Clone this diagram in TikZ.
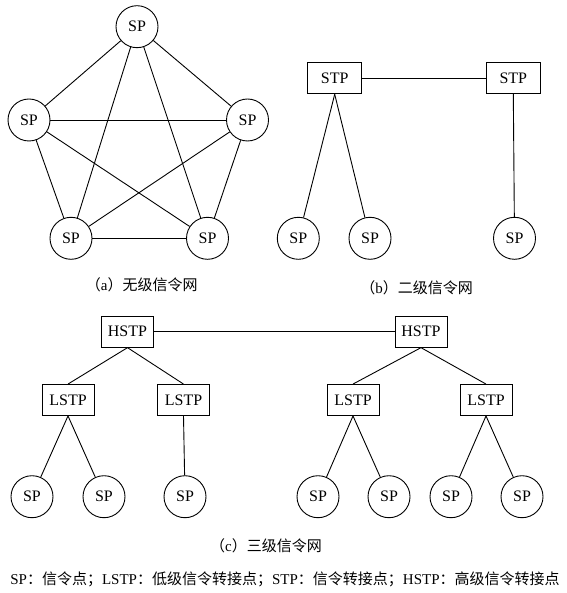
\documentclass[tikz,border=0pt]{standalone}
\usepackage{fontspec}
\setmainfont{Liberation Serif}
\newfontfamily\cjk{Noto Sans CJK SC}
\tikzset{
  sp/.style={draw, circle, line width=0.9pt, minimum size=42pt, inner sep=0pt, font=\fontsize{16}{19}\selectfont},
  stpbox/.style={draw, rectangle, line width=0.9pt, minimum width=52pt, minimum height=31pt, inner sep=0pt, font=\fontsize{16}{19}\selectfont},
  link/.style={line width=0.9pt},
}
\begin{document}
\begin{tikzpicture}[x=1pt, y=-1pt, font=\fontsize{15}{18}\selectfont]
    \useasboundingbox (0, 0) rectangle (566, 593);
        % (a) mesh
        \node [sp] (spt) at (137, 26.7) {SP};
        \node [sp] (spl) at (29, 120) {SP};
        \node [sp] (spr) at (247.5, 120) {SP};
        \node [sp] (spbl) at (71, 238.3) {SP};
        \node [sp] (spbr) at (207.5, 238.3) {SP};
        \draw[link] (spt) -- (spl);
        \draw[link] (spt) -- (spr);
        \draw[link] (spt) -- (spbl);
        \draw[link] (spt) -- (spbr);
        \draw[link] (spl) -- (spr);
        \draw[link] (spl) -- (spbl);
        \draw[link] (spl) -- (spbr);
        \draw[link] (spr) -- (spbl);
        \draw[link] (spr) -- (spbr);
        \draw[link] (spbl) -- (spbr);
        \node (capa) at (141.7, 285) {{\cjk （}a{\cjk ）无级信令网}};
        % (b) two levels
        \node [stpbox, minimum width=54pt] (stpa) at (334.7, 78.3) {STP};
        \node [stpbox, minimum width=54pt] (stpb) at (513.3, 78.3) {STP};
        \node [sp] (spa1) at (298.3, 238.3) {SP};
        \node [sp] (spa2) at (370, 238.3) {SP};
        \node [sp] (spb1) at (514.5, 238.3) {SP};
        \draw[link] (stpa) -- (stpb);
        \draw[link] (stpa.south) -- (spa1);
        \draw[link] (stpa.south) -- (spa2);
        \draw[link] (stpb.south) -- (spb1);
        \node (capb) at (416.7, 288) {{\cjk （}b{\cjk ）二级信令网}};
        % (c) three levels
        \node [stpbox] (hstpa) at (127.5, 331.7) {HSTP};
        \node [stpbox] (hstpb) at (421, 331.7) {HSTP};
        \node [stpbox] (lstpa) at (68, 400) {LSTP};
        \node [stpbox] (lstpb) at (183.5, 400) {LSTP};
        \node [stpbox] (lstpc) at (353, 400) {LSTP};
        \node [stpbox] (lstpd) at (486, 400) {LSTP};
        \node [sp] (spc1) at (32, 496.7) {SP};
        \node [sp] (spc2) at (104, 496.7) {SP};
        \node [sp] (spc3) at (185, 496.7) {SP};
        \node [sp] (spc4) at (318, 496.7) {SP};
        \node [sp] (spc5) at (389, 496.7) {SP};
        \node [sp] (spc6) at (451, 496.7) {SP};
        \node [sp] (spc7) at (522, 496.7) {SP};
        \draw[link] (hstpa) -- (hstpb);
        \draw[link] (hstpa.south) -- (lstpa.north);
        \draw[link] (hstpa.south) -- (lstpb.north);
        \draw[link] (hstpb.south) -- (lstpc.north);
        \draw[link] (hstpb.south) -- (lstpd.north);
        \draw[link] (lstpa.south) -- (spc1);
        \draw[link] (lstpa.south) -- (spc2);
        \draw[link] (lstpb.south) -- (spc3);
        \draw[link] (lstpc.south) -- (spc4);
        \draw[link] (lstpc.south) -- (spc5);
        \draw[link] (lstpd.south) -- (spc6);
        \draw[link] (lstpd.south) -- (spc7);
        \node (capc) at (266, 546) {{\cjk （}c{\cjk ）三级信令网}};
        \node (legend) at (285, 579) {SP{\cjk ：信令点；}LSTP{\cjk ：低级信令转接点；}STP{\cjk ：信令转接点；}HSTP{\cjk ：高级信令转接点}};
    \end{tikzpicture}
\end{document}
